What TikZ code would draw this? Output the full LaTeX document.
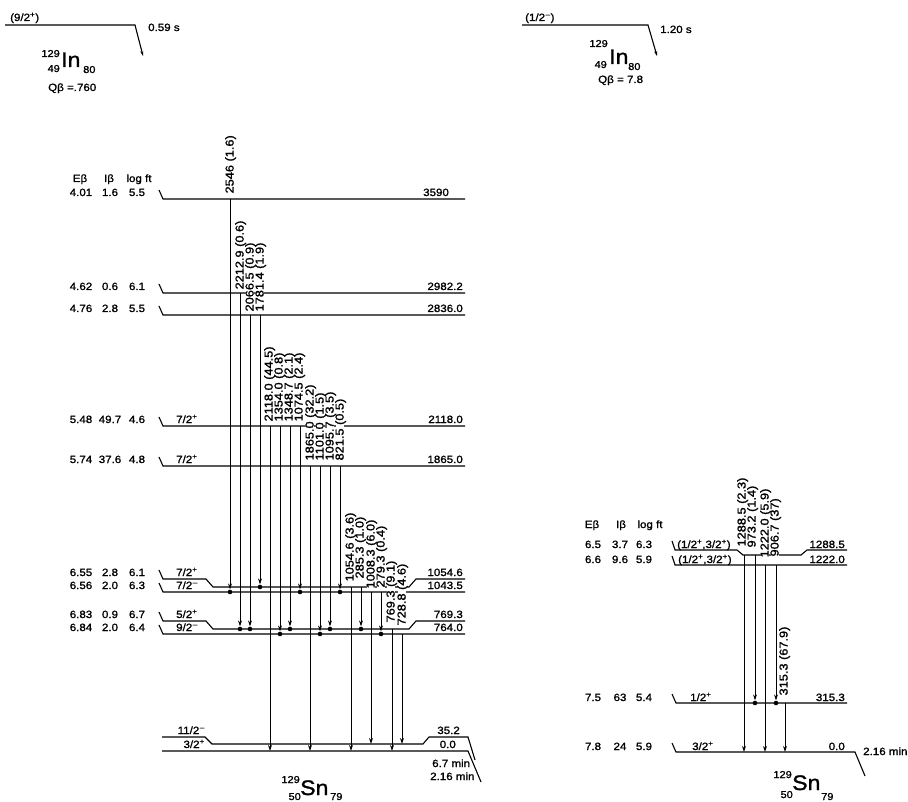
\documentclass[tikz,border=0pt]{standalone}
\usepackage{fontspec}
\setmainfont{Liberation Sans}[FakeStretch=1.1, FakeBold=1.3]
\usetikzlibrary{arrows.meta}
\newcommand\spp{\textsuperscript{+}}
\newcommand\smm{\textsuperscript{\kern0.5pt–}}
\tikzset{
  lev/.style={line width=1.1pt, line join=miter},
  gline/.style={line width=0.8pt},
  garrow/.style={gline, -{Stealth[length=6pt,width=3.8pt]}},
  t/.style={font=\fontsize{10.5}{12}\selectfont, inner sep=0pt},
  vl/.style={font=\fontsize{11.6}{12}\selectfont, rotate=90, anchor=west, inner sep=0.4pt, text height=0.72em, text depth=0pt},
  big/.style={font=\fontsize{21}{24}\selectfont, inner sep=0pt},
  idx/.style={font=\fontsize{10}{12}\selectfont, inner sep=0pt},
  dotc/.style={fill=black},
}
\def\vlist{230/194/2546 (1.6), 240/290/2212.9 (0.6), 250/312/2066.5 (0.9), 260/312/1781.4 (1.9),
 269/422/2118.0 (44.5), 279/422/1354.0 (0.8), 289/422/1348.7 (2.1), 299/422/1074.5 (2.4),
 310/461/1865.0 (32.2), 320/461/1101.0 (1.5), 330/461/1095.7 (3.5), 340/461/821.5 (0.5),
 350/582/1054.6 (3.6), 360/579/285.3 (1.0), 371/589/1008.3 (6.0), 381/588/279.3 (0.4),
 391/623/769.3 (9.1), 402/626/728.8 (4.6),
 742/547/1288.5 (2.3), 752/548/973.2 (1.4), 765/558/1222.0 (5.9), 775/557/906.7 (37), 784/696/315.3 (67.9)}
\def\glist{230/199/592/1, 240/293/629/1, 250/315/629/1, 260/315/587/1,
 270/426/751/0, 280/426/634/1, 290/426/629/1, 300/426/592/1,
 310/466/751/0, 320/466/634/1, 330/466/629/1, 340/466/592/1,
 351/587/751/0, 361/587/629/1, 371/592/744/0, 381/592/634/1,
 392/629/751/0, 402/634/744/0,
 744/555/752/0, 755/555/703/1, 765/565/752/0, 776/565/703/1, 785/703/752/0}
\begin{document}
\begin{tikzpicture}[x=1pt,y=-1pt]
\useasboundingbox (0,0) rectangle (908,802);
\fill[white] (0,0) rectangle (908,802);

% ---------- parent headers ----------
\draw[lev, -{Stealth[length=5pt,width=3pt]}] (5,25) -- (135,25) -- (143,56);
\node[t, anchor=base west] (pL) at (10,21) {(9/2\spp)};
\node[t, anchor=base west] (hlL) at (148,31) {0.59 s};
\node[big, anchor=base west] (inL) at (61,67) {In};
\node[idx, anchor=base east] (inLa) at (60,57) {129};
\node[idx, anchor=base east] (inLz) at (60,72) {49};
\node[idx, anchor=base west] (inLn) at (83,73) {80};
\node[t, anchor=base west] (qL) at (48,91) {Qβ =.760};

\draw[lev, -{Stealth[length=5pt,width=3pt]}] (522,25) -- (648,25) -- (657,56);
\node[t, anchor=base west] (pR) at (525,21) {(1/2\smm)};
\node[t, anchor=base west] (hlR) at (660,33) {1.20 s};
\node[big, anchor=base west] (inR) at (609,64) {In};
\node[idx, anchor=base east] (inRa) at (608,47) {129};
\node[idx, anchor=base east] (inRz) at (607,68) {49};
\node[idx, anchor=base west] (inRn) at (628,70) {80};
\node[t, anchor=base west] (qR) at (598,83) {Qβ = 7.8};

% ---------- levels, left scheme ----------
\draw[lev] (159,190) -- (163,199) -- (465,199);
\draw[lev] (159,284) -- (163,293) -- (465,293);
\draw[lev] (159,306) -- (163,315) -- (465,315);
\draw[lev] (159,417) -- (163,426) -- (465,426);
\draw[lev] (159,457) -- (163,466) -- (465,466);
\draw[lev] (159,570) -- (163,579) -- (206,579) -- (213,587) -- (409,587) -- (416,579) -- (465,579);
\draw[lev] (159,583) -- (163,592) -- (465,592);
\draw[lev] (159,612) -- (163,621) -- (206,621) -- (213,629) -- (409,629) -- (416,621) -- (465,621);
\draw[lev] (159,625) -- (163,634) -- (465,634);
\draw[lev] (162,737) -- (205,737) -- (212,744) -- (423,744) -- (429,737) -- (468,737) -- (475,760);
\draw[lev] (162,751) -- (468,751) -- (481,782);

% ---------- levels, right scheme ----------
\draw[lev] (672,541) -- (675,550) -- (737,550) -- (743,555) -- (801,555) -- (807,550) -- (847,550);
\draw[lev] (672,556) -- (675,565) -- (847,565);
\draw[lev] (672,694) -- (676,703) -- (847,703);
\draw[lev] (672,743) -- (676,752) -- (855,752) -- (865,776);

% ---------- gaps under gamma labels ----------
\foreach \x/\y/\s in \vlist { \node[vl, fill=white, text=white] at (\x,\y) {\s}; }

% ---------- gamma transitions ----------
\foreach \x/\ya/\yb/\d in \glist {
  \ifnum\d=1
    \draw[garrow] (\x,\ya) -- (\x,\yb-2.5);
    \fill[dotc] (\x,\yb) circle (2.3);
  \else
    \draw[garrow] (\x,\ya) -- (\x,\yb);
  \fi
}

% ---------- gamma labels ----------
\foreach \x/\y/\s [count=\i] in \vlist { \node[vl] (v\i) at (\x,\y) {\s}; }

% ---------- left table ----------
\node[t, anchor=base] (hE) at (80,182) {Eβ};
\node[t, anchor=base] (hI) at (109,182) {Iβ};
\node[t, anchor=base] (hF) at (139,182) {log ft};
\foreach \y/\e/\i/\l [count=\k] in {196/4.01/1.6/5.5, 290/4.62/0.6/6.1, 312/4.76/2.8/5.5,
  423/5.48/49.7/4.6, 463/5.74/37.6/4.8, 576/6.55/2.8/6.1, 589/6.56/2.0/6.3,
  618/6.83/0.9/6.7, 631/6.84/2.0/6.4} {
  \node[t, anchor=base] (le\k) at (81,\y) {\e};
  \node[t, anchor=base] (li\k) at (110,\y) {\i};
  \node[t, anchor=base] (ll\k) at (137,\y) {\l};
}
\node[t, anchor=base west] (s1) at (176,423) {7/2\spp};
\node[t, anchor=base west] (s2) at (176,463) {7/2\spp};
\node[t, anchor=base west] (s3) at (176,576) {7/2\spp};
\node[t, anchor=base west] (s4) at (176,589) {7/2\smm};
\node[t, anchor=base west] (s5) at (176,618) {5/2\spp};
\node[t, anchor=base west] (s6) at (176,631) {9/2\smm};
\node[t, anchor=base east] (s7) at (205,734) {11/2\smm};
\node[t, anchor=base east] (s8) at (205,748) {3/2\spp};

\node[t, anchor=base west] (e1) at (423,196) {3590};
\node[t, anchor=base east] (e2) at (463,290) {2982.2};
\node[t, anchor=base east] (e3) at (463,312) {2836.0};
\node[t, anchor=base east] (e4) at (463,423) {2118.0};
\node[t, anchor=base east] (e5) at (463,463) {1865.0};
\node[t, anchor=base east] (e6) at (463,576) {1054.6};
\node[t, anchor=base east] (e7) at (463,589) {1043.5};
\node[t, anchor=base east] (e8) at (463,618) {769.3};
\node[t, anchor=base east] (e9) at (463,631) {764.0};
\node[t, anchor=base east] (e10) at (460,734) {35.2};
\node[t, anchor=base east] (e11) at (456,748) {0.0};
\node[t, anchor=base west] (h67) at (432,767) {6.7 min};
\node[t, anchor=base west] (h216L) at (430,780) {2.16 min};

\node[big, anchor=base west] (snL) at (300,795) {Sn};
\node[idx, anchor=base east] (snLa) at (300,783) {129};
\node[idx, anchor=base east] (snLz) at (301,800) {50};
\node[idx, anchor=base west] (snLn) at (330,800) {79};

% ---------- right table ----------
\node[t, anchor=base] (rE) at (592,528) {Eβ};
\node[t, anchor=base] (rI) at (621,528) {Iβ};
\node[t, anchor=base] (rF) at (650,528) {log ft};
\foreach \y/\e/\i/\l [count=\k] in {548/6.5/3.7/6.3, 563/6.6/9.6/5.9, 701/7.5/63/5.4, 750/7.8/24/5.9} {
  \node[t, anchor=base] (re\k) at (593,\y) {\e};
  \node[t, anchor=base] (ri\k) at (620,\y) {\i};
  \node[t, anchor=base] (rl\k) at (644,\y) {\l};
}
\node[t, anchor=base west] (rs1) at (677,548) {(1/2\spp,3/2\spp)};
\node[t, anchor=base west] (rs2) at (678,563) {(1/2\spp,3/2\spp)};
\node[t, anchor=base west] (rs3) at (690,701) {1/2\spp};
\node[t, anchor=base west] (rs4) at (692,750) {3/2\spp};
\node[t, anchor=base east] (re1x) at (845,548) {1288.5};
\node[t, anchor=base east] (re2x) at (845,563) {1222.0};
\node[t, anchor=base east] (re3x) at (845,701) {315.3};
\node[t, anchor=base east] (re4x) at (845,750) {0.0};
\node[t, anchor=base west] (h216R) at (863,755) {2.16 min};

\node[big, anchor=base west] (snR) at (792,790) {Sn};
\node[idx, anchor=base east] (snRa) at (792,778) {129};
\node[idx, anchor=base east] (snRz) at (793,798) {50};
\node[idx, anchor=base west] (snRn) at (821,800) {79};
\end{tikzpicture}
\end{document}
